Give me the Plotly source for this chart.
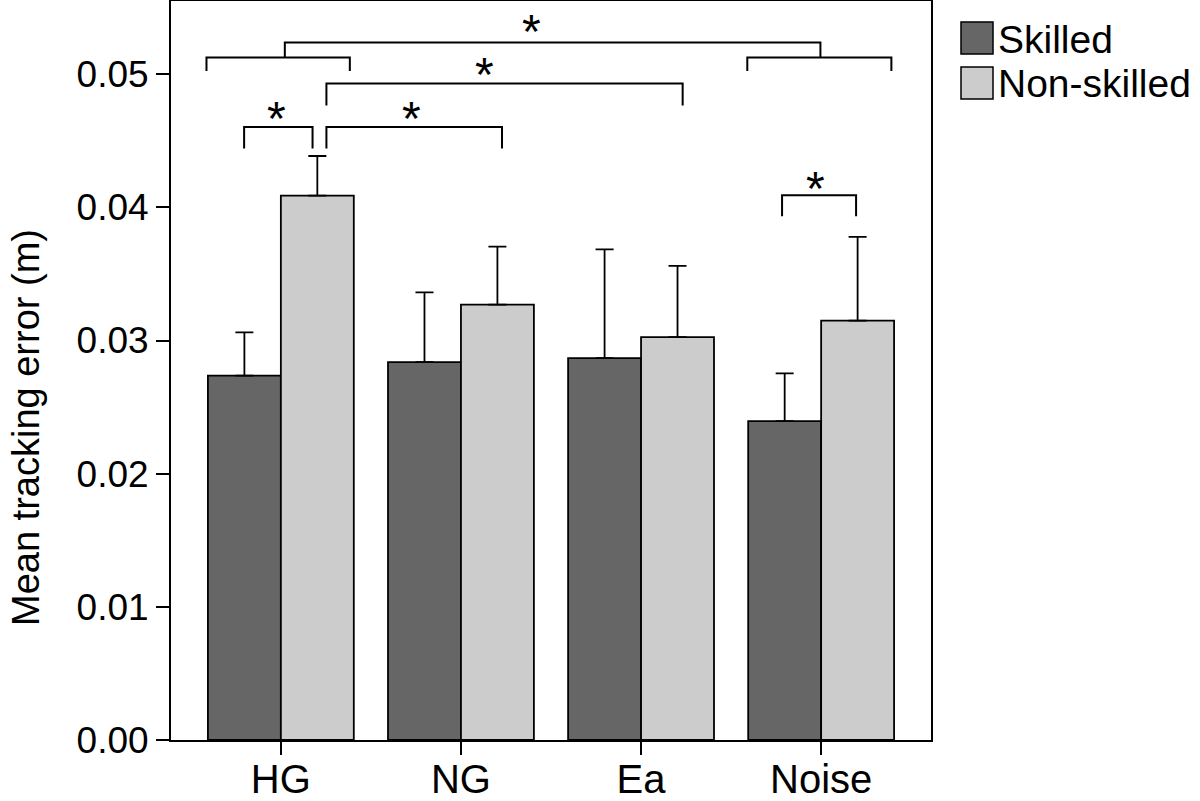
import plotly.graph_objects as go

categories = ["HG", "NG", "Ea", "Noise"]
skilled_mean = [0.02736, 0.02838, 0.02868, 0.02395]
skilled_err = [0.00326, 0.00524, 0.00817, 0.00359]
nonskilled_mean = [0.04089, 0.03270, 0.03026, 0.03150]
nonskilled_err = [0.00297, 0.00435, 0.00534, 0.00628]
y_ticks = [0.00, 0.01, 0.02, 0.03, 0.04, 0.05]

DARK = "#666666"
LIGHT = "#cccccc"
FONT = "Liberation Sans, Arial, Helvetica, sans-serif"

fig = go.Figure()
fig.add_trace(go.Bar(
    x=categories, y=skilled_mean, name="Skilled",
    marker=dict(color=DARK, line=dict(color="black", width=1.8)),
    error_y=dict(type="data", array=skilled_err, arrayminus=[0]*4, symmetric=False,
                 color="black", thickness=1.8, width=9),
    showlegend=False,
))
fig.add_trace(go.Bar(
    x=categories, y=nonskilled_mean, name="Non-skilled",
    marker=dict(color=LIGHT, line=dict(color="black", width=1.8)),
    error_y=dict(type="data", array=nonskilled_err, arrayminus=[0]*4, symmetric=False,
                 color="black", thickness=1.8, width=9),
    showlegend=False,
))

# significance brackets: list of polylines in data coords
brackets = [
    [(-0.413, 0.05025), (-0.413, 0.05125), (0.383, 0.05125), (0.383, 0.05025)],
    [(0.022, 0.05125), (0.022, 0.05238), (2.996, 0.05238), (2.996, 0.05125)],
    [(2.59, 0.05025), (2.59, 0.05125), (3.39, 0.05125), (3.39, 0.05025)],
    [(0.253, 0.04766), (0.253, 0.0493), (2.231, 0.0493), (2.231, 0.04766)],
    [(-0.204, 0.04442), (-0.204, 0.04604), (0.176, 0.04604), (0.176, 0.04442)],
    [(0.253, 0.04442), (0.253, 0.04604), (1.228, 0.04604), (1.228, 0.04442)],
    [(2.783, 0.03933), (2.783, 0.04091), (3.194, 0.04091), (3.194, 0.03933)],
]
stars = [(1.39, 0.05383), (1.133, 0.0506), (-0.022, 0.0473), (0.728, 0.0473), (2.968, 0.04204)]

for b in brackets:
    path = "M " + " L ".join(f"{x},{y}" for x, y in b)
    fig.add_shape(type="path", path=path, xref="x", yref="y",
                  line=dict(color="black", width=2))
for sx, sy in stars:
    fig.add_annotation(x=sx, y=sy, xref="x", yref="y", text="*", showarrow=False,
                       font=dict(size=48, color="black", family=FONT),
                       yanchor="middle", xanchor="center", yshift=-8)

# custom legend (paper coords from pixel layout)
L, R, T, B = 171, 931, 1, 740
def px2paper_x(px):
    return (px - L) / (R - L)
def px2paper_y(py):
    return (B - py) / (B - T)

legend_items = [("Skilled", DARK, 22, 54), ("Non-skilled", LIGHT, 67, 99)]
for label, col, y0, y1 in legend_items:
    fig.add_shape(type="rect", xref="paper", yref="paper",
                  x0=px2paper_x(961), x1=px2paper_x(993),
                  y0=px2paper_y(y1), y1=px2paper_y(y0),
                  fillcolor=col, line=dict(color="black", width=1.5))
    fig.add_annotation(x=px2paper_x(996), y=px2paper_y((y0 + y1) / 2 + 1), xref="paper", yref="paper",
                       text=label, showarrow=False, xanchor="left", yanchor="middle",
                       font=dict(size=39, color="black", family=FONT))

# y-axis title
fig.add_annotation(x=px2paper_x(26), y=px2paper_y(428), xref="paper", yref="paper",
                   text="Mean tracking error (m)", textangle=-90, showarrow=False,
                   xanchor="center", yanchor="middle",
                   font=dict(size=38, color="black", family=FONT))

fig.update_layout(
    width=1200, height=801,
    margin=dict(l=L, r=1200 - R, t=T, b=801 - B, autoexpand=False),
    paper_bgcolor="white", plot_bgcolor="white",
    barmode="group", bargap=0.19, bargroupgap=0,
    font=dict(family=FONT, color="black"),
)
fig.update_xaxes(
    range=[-0.61, 3.61], showline=True, linecolor="black", linewidth=2, mirror=True,
    ticks="outside", ticklen=13, tickwidth=2, tickcolor="black", automargin=False,
    ticklabelstandoff=-10,
    tickfont=dict(size=40, family=FONT, color="black"), showgrid=False,
)
fig.update_yaxes(
    range=[0, 0.0555], showline=True, linecolor="black", linewidth=2, mirror=True,
    ticks="outside", ticklen=13, tickwidth=2, tickcolor="black", automargin=False,
    tickvals=y_ticks, tickformat=".2f",
    tickfont=dict(size=37, family=FONT, color="black"), showgrid=False, zeroline=False,
)

fig.write_html("out.html", config={"displayModeBar": False},
               post_script="document.body.style.margin='0';document.body.style.overflow='hidden';")
